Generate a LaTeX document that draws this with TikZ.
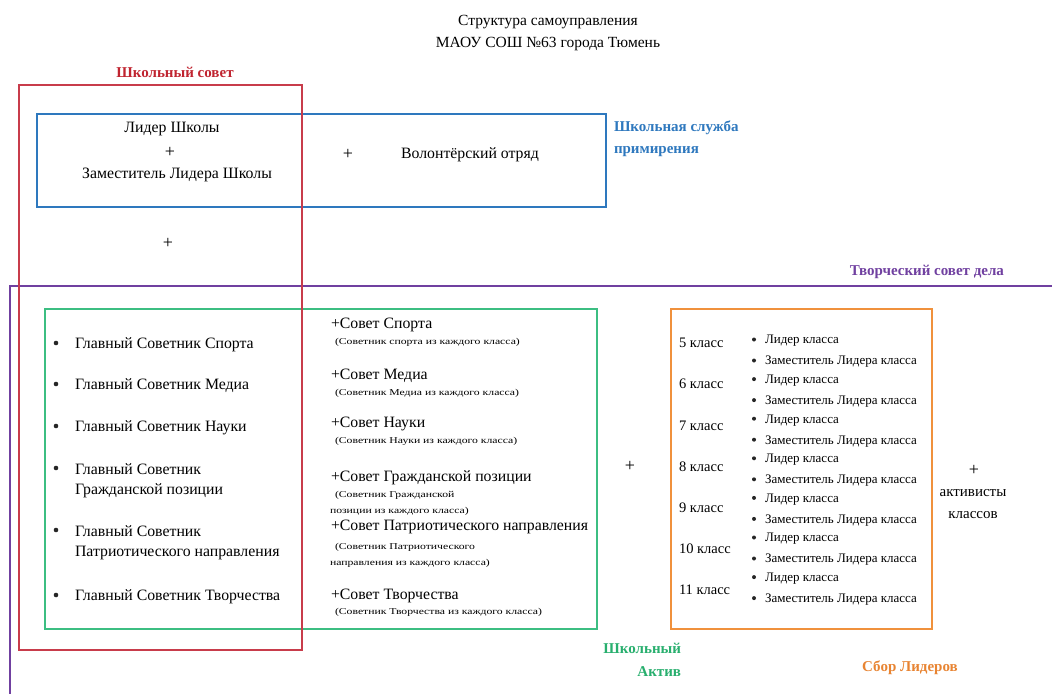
\documentclass[tikz,border=0pt]{standalone}
\usepackage{fontspec}
\setmainfont{Liberation Serif}
\newfontfamily\widefont[FakeStretch=1.3]{Liberation Serif}
\definecolor{cred}{RGB}{200,60,75}
\definecolor{credt}{RGB}{192,36,48}
\definecolor{cblue}{RGB}{46,120,190}
\definecolor{cgreen}{RGB}{60,190,130}
\definecolor{cgreent}{RGB}{40,175,110}
\definecolor{corange}{RGB}{240,145,60}
\definecolor{corangt}{RGB}{232,132,50}
\definecolor{cpurple}{RGB}{112,64,160}
\tikzset{
  every node/.style={inner sep=0pt, outer sep=0pt},
  main/.style={font=\fontsize{15.8}{20}\selectfont},
  ttl/.style={font=\fontsize{15.5}{18}\selectfont},
  tiny/.style={font=\widefont\fontsize{9}{10}\selectfont},
  ora/.style={font=\fontsize{13}{15}\selectfont},
  cls/.style={font=\fontsize{14.5}{16}\selectfont},
  lbl/.style={font=\bfseries\fontsize{15}{23}\selectfont},
  bul/.style={circle, fill=black!85, minimum size=4.6pt},
  bulo/.style={circle, fill=black!85, minimum size=4pt},
  pls/.style={font=\fontsize{18}{18}\selectfont},
  bx/.style={line width=1.8pt},
}
\begin{document}
\begin{tikzpicture}[x=1pt,y=-1pt]
\useasboundingbox[fill=white] (0,0) rectangle (1052,694);
% title
\node[ttl] (t1) at (548,22) {Структура самоуправления};
\node[ttl] (t2) at (548,44) {МАОУ СОШ №63 города Тюмень};
% purple frame (extends beyond picture)
\draw[cpurple, line width=1.8pt] (1052,286) -- (10,286) -- (10,694);
\node[lbl, text=cpurple, anchor=east] (lpur) at (1004,272) {Творческий совет дела};
% blue box
\draw[cblue, bx] (37,114) rectangle (606,207);
\node[lbl, text=cblue, anchor=west, align=left, font=\bfseries\fontsize{15}{22}\selectfont] (lblue) at (614,139) {Школьная служба\\примирения};
\node[main] (ls) at (172,129) {Лидер Школы};
\node[pls] (p1) at (170,152) {+};
\node[main] (zls) at (177,175) {Заместитель Лидера Школы};
\node[pls] (p2) at (348,154) {+};
\node[main] (vol) at (470,155) {Волонтёрский отряд};
\node[pls] (p3) at (168,243) {+};
% green box
\draw[cgreen, bx] (45,309) rectangle (597,629);
\node[lbl, text=cgreent, anchor=east, align=right] (lgreen) at (681,660) {Школьный\\Актив};
% left bullets
\foreach \y/\n/\t in {345/g1/{Главный Советник Спорта}, 386/g2/{Главный Советник Медиа}, 428/g3/{Главный Советник Науки}, 481/g4/{Главный Советник\\Гражданской позиции}, 543/g5/{Главный Советник\\Патриотического направления}, 597/g6/{Главный Советник Творчества}}{
  \node[main, anchor=west, align=left] (\n) at (75,\y) {\t};
}
\foreach \y/\n in {343/b1, 384/b2, 426/b3, 468/b4, 530/b5, 595/b6}{
  \node[bul] (\n) at (56,\y) {};
}
% middle councils
\node[main, anchor=west] (s1) at (331,325) {+Совет Спорта};
\node[tiny, anchor=west] (s1a) at (335,342) {(Советник спорта из каждого класса)};
\node[main, anchor=west] (s2) at (331,376) {+Совет Медиа};
\node[tiny, anchor=west] (s2a) at (335,393) {(Советник Медиа из каждого класса)};
\node[main, anchor=west] (s3) at (331,424) {+Совет Науки};
\node[tiny, anchor=west] (s3a) at (335,441) {(Советник Науки из каждого класса)};
\node[main, anchor=west] (s4) at (331,478) {+Совет Гражданской позиции};
\node[tiny, anchor=west] (s4a) at (335,495) {(Советник Гражданской};
\node[tiny, anchor=west] (s4b) at (330,511) {позиции из каждого класса)};
\node[main, anchor=west] (s5) at (331,527) {+Совет Патриотического направления};
\node[tiny, anchor=west] (s5a) at (335,547) {(Советник Патриотического};
\node[tiny, anchor=west] (s5b) at (330,563) {направления из каждого класса)};
\node[main, anchor=west] (s6) at (331,596) {+Совет Творчества};
\node[tiny, anchor=west] (s6a) at (335,612) {(Советник Творчества из каждого класса)};
% plus between
\node[pls] (p4) at (630,466) {+};
% orange box
\draw[corange, bx] (671,309) rectangle (932,629);
\node[lbl, text=corangt] (lor) at (910,668) {Сбор Лидеров};
\foreach \i/\c in {0/5, 1/6, 2/7, 3/8, 4/9, 5/10, 6/11}{
  \pgfmathsetmacro{\yc}{343+41.2*\i}
  \pgfmathsetmacro{\ya}{341+39.6*\i}
  \pgfmathsetmacro{\yb}{362+39.6*\i}
  \pgfmathsetmacro{\yba}{\ya-1.5}
  \pgfmathsetmacro{\ybb}{\yb-1.5}
  \node[cls, anchor=west] (c\c) at (679,\yc) {\c{} класс};
  \node[bulo] (ba\c) at (754,\yba) {};
  \node[ora, anchor=west] (la\c) at (765,\ya) {Лидер класса};
  \node[bulo] (bb\c) at (754,\ybb) {};
  \node[ora, anchor=west] (lb\c) at (765,\yb) {Заместитель Лидера класса};
}
% right side
\node[pls] (p5) at (974,470) {+};
\node[main, align=center, font=\fontsize{15}{22}\selectfont] (act) at (973,504) {активисты\\классов};
% red box (drawn on top)
\draw[cred, line width=1.5pt] (19,85) rectangle (302,650);
\node[lbl, text=credt] (lred) at (175,72) {Школьный совет};
\end{tikzpicture}
\end{document}
